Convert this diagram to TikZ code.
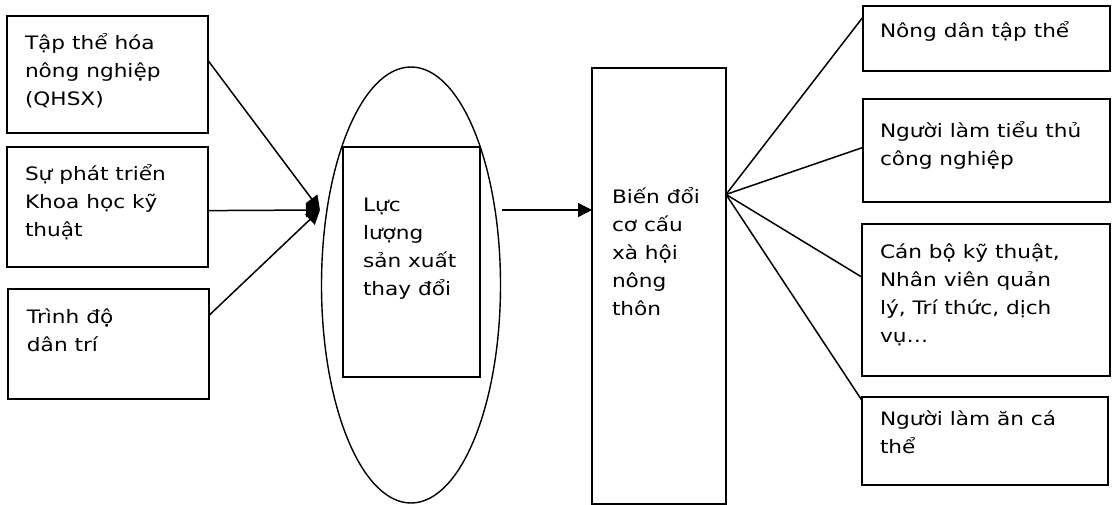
\documentclass[tikz,border=0pt]{standalone}
\usepackage{fontspec}
\setmainfont[FakeStretch=1.17]{DejaVu Sans}
\usetikzlibrary{arrows.meta,calc,shapes.geometric}
\begin{document}
\begin{tikzpicture}[x=1pt,y=-1pt,
  every node/.style={inner sep=0pt,outer sep=0pt},
  box/.style={draw,line width=1.7pt,rectangle},
  % multi-line texts are anchored at the baseline of their last line
  txt/.style={anchor=base west,align=left,font=\fontsize{18.5}{28}\selectfont},
  link/.style={line width=1.5pt},
  arr/.style={line width=1.5pt,-{Triangle[length=14pt,width=14pt]}}]
\useasboundingbox (0,0) rectangle (1114,504);

% left-hand causes
\node[box,minimum width=201pt,minimum height=117pt] (b1) at (107.5,74.5) {};
\node[box,minimum width=201pt,minimum height=120pt] (b2) at (107.5,207) {};
\node[box,minimum width=201pt,minimum height=110pt] (b3) at (108.5,344) {};
\node[txt] (t1) at (25,105) {Tập thể hóa\\nông nghiệp\\(QHSX)};
\node[txt] (t2) at (25,236) {Sự phát triển\\Khoa học kỹ\\thuật};
\node[txt] (t3) at (27,351) {Trình độ\\dân trí};

% productive forces
\node[draw,line width=1.4pt,ellipse,minimum width=179pt,minimum height=436pt] (e) at (411,285) {};
\node[box,minimum width=137pt,minimum height=230pt] (lf) at (411.5,262) {};
\node[txt] (tl) at (363,295) {Lực\\lượng\\sản xuất\\thay đổi};

% rural social structure
\node[box,minimum width=134pt,minimum height=436pt] (bb) at (659,286) {};
\node[txt] (tb) at (612,315) {Biến đổi\\cơ cấu\\xà hội\\nông\\thôn};

% resulting groups
\node[box,minimum width=247pt,minimum height=65pt] (r1) at (986.5,38.5) {};
\node[box,minimum width=247pt,minimum height=103pt] (r2) at (986.5,150.5) {};
\node[box,minimum width=248pt,minimum height=152pt] (r3) at (986,300) {};
\node[box,minimum width=246pt,minimum height=88pt] (r4) at (985,441) {};
\node[txt] (s1) at (880,37) {Nông dân tập thể};
\node[txt] (s2) at (880,165) {Người làm tiểu thủ\\công nghiệp};
\node[txt] (s3) at (880,342) {Cán bộ kỹ thuật,\\Nhân viên quản\\lý, Trí thức, dịch\\vụ…};
\node[txt] (s4) at (880,453) {Người làm ăn cá\\thể};

% connectors
\coordinate (ein) at (320,210);
\coordinate (eout) at (502,210);
\draw[arr] ($(b1.north east)!0.38!(b1.south east)$) -- (ein);
\draw[arr] ($(b2.north east)!0.53!(b2.south east)$) -- (ein);
\draw[arr] ($(b3.north east)!0.24!(b3.south east)$) -- (ein);
\draw[arr] (eout) -- (bb.west |- eout);
\coordinate (bo) at ($(bb.north east)!0.29!(bb.south east)$);
\draw[link] (bo) -- ($(r1.north west)!0.17!(r1.south west)$);
\draw[link] (bo) -- ($(r2.north west)!0.47!(r2.south west)$);
\draw[link] (bo) -- ($(r3.north west)!0.35!(r3.south west)$);
\draw[link] (bo) -- ($(r4.north west)!0.04!(r4.south west)$);
\end{tikzpicture}
\end{document}
